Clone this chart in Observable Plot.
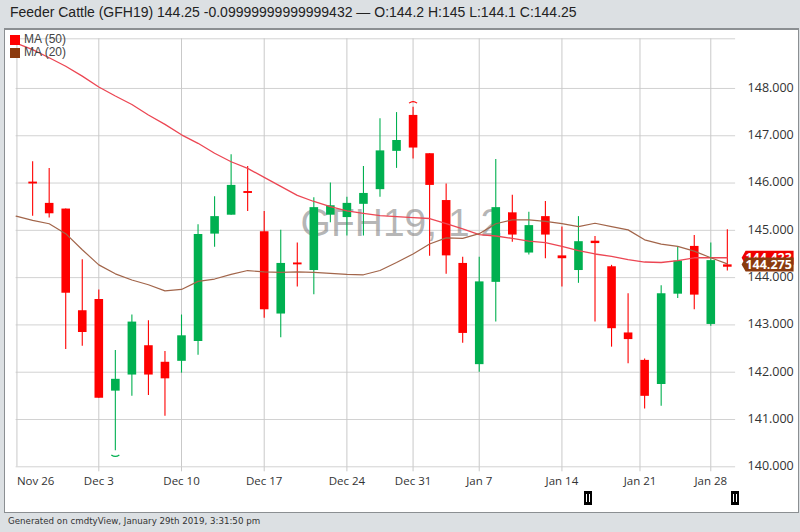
<!DOCTYPE html>
<html><head><meta charset="utf-8">
<script src="https://cdn.jsdelivr.net/npm/d3@7"></script>
<script src="https://cdn.jsdelivr.net/npm/@observablehq/plot@0.6"></script>
<style>
html,body{margin:0;padding:0;background:#dce0e3;width:800px;height:532px;overflow:hidden}
#panel{position:absolute;left:4px;top:28px;width:793px;height:482px;background:#fff;border:1px solid #8b8f92;border-top:2px solid #8b8f92;box-sizing:content-box}
#chart{position:absolute;left:0;top:0}
#title{position:absolute;left:10px;top:4px;font:14px "Liberation Sans",sans-serif;color:#222;white-space:nowrap}
#foot{position:absolute;left:8px;top:516px;font:8.7px "DejaVu Sans",sans-serif;color:#333;white-space:nowrap}
.lg{position:absolute;left:24px;font:12px "Liberation Sans",sans-serif;color:#444;white-space:nowrap;line-height:13px}
.sw{position:absolute;left:10px;width:10px;height:10px}
.h{position:absolute;top:491px;width:8px;height:14px;background:#000}
.h:before{content:"";position:absolute;left:2px;top:3px;width:1px;height:8px;background:#fff}
.h:after{content:"";position:absolute;left:5px;top:3px;width:1px;height:8px;background:#fff}
</style></head><body>
<div id="panel"></div>
<div id="chart"></div>
<div id="title">Feeder Cattle (GFH19) 144.25 -0.09999999999999432 — O:144.2 H:145 L:144.1 C:144.25</div>
<div class="sw" style="top:35px;background:#ff0000"></div><div class="lg" style="top:33px">MA (50)</div>
<div class="sw" style="top:48px;background:#8b3a0e"></div><div class="lg" style="top:46px">MA (20)</div>
<div class="h" style="left:584px"></div><div class="h" style="left:731px"></div>
<div id="foot">Generated on cmdtyView, January 29th 2019, 3:31:50 pm</div>
<script>
const highs=[146.45,146.31,145.45,144.38,143.74,142.46,143.21,143.09,142.44,143.21,145.12,145.71,146.60,146.35,145.40,145.00,144.73,145.69,146.00,145.70,146.35,147.36,147.49,147.60,146.62,145.98,144.43,144.43,146.50,145.74,145.38,145.61,145.07,145.29,144.87,144.26,143.66,142.28,143.83,144.64,144.89,144.73,145.01];
const lows=[145.30,145.26,142.48,142.55,141.45,140.34,141.49,141.51,141.07,141.98,142.36,144.64,145.32,145.40,143.14,142.73,143.80,143.64,145.16,144.88,144.88,145.70,146.31,146.51,144.45,144.07,142.61,142.00,143.06,144.75,144.48,144.40,143.80,143.88,143.06,142.53,142.18,141.22,141.28,143.56,143.32,142.97,144.14];
const opens=[146.02,145.57,145.45,143.30,143.54,141.60,141.94,142.56,142.21,142.23,142.65,144.92,145.32,145.82,144.97,143.23,144.31,144.15,145.32,145.27,145.55,145.86,146.67,147.43,146.62,145.63,144.30,142.16,143.90,145.37,144.52,145.29,144.46,144.15,144.77,144.23,142.83,142.25,141.74,143.65,144.66,143.01,144.27];
const closes=[145.98,145.35,143.67,142.84,141.45,141.85,143.06,141.94,141.86,142.77,144.91,145.29,145.95,145.78,143.32,144.30,144.27,145.48,145.52,145.57,145.78,146.68,146.90,146.74,145.95,144.46,142.82,143.91,145.48,144.90,145.10,144.90,144.40,144.76,144.72,142.92,142.69,141.49,143.66,144.35,143.63,144.36,144.22];
const ma50=[148.96,148.82,148.65,148.47,148.26,148.03,147.84,147.66,147.44,147.24,147.02,146.84,146.63,146.45,146.31,146.12,145.93,145.74,145.61,145.50,145.41,145.36,145.31,145.29,145.27,145.25,145.14,145.03,144.91,144.88,144.83,144.77,144.74,144.66,144.57,144.50,144.45,144.38,144.33,144.32,144.36,144.42,144.42,144.42];
const ma20=[145.30,145.21,145.14,144.93,144.59,144.27,144.08,143.95,143.85,143.72,143.75,143.92,143.97,144.07,144.15,144.12,144.11,144.12,144.11,144.09,144.07,144.06,144.15,144.32,144.50,144.71,144.84,144.83,144.93,145.14,145.22,145.22,145.19,145.14,145.08,145.15,145.08,145.01,144.80,144.71,144.66,144.56,144.42,144.29];
const tickIndex=[0.05,5,10,15,20,24,28,33,37.72,42];
const tickLabels=["Nov 26","Dec 3","Dec 10","Dec 17","Dec 24","Dec 31","Jan 7","Jan 14","Jan 21","Jan 28"];
const priceTicks=[140,141,142,143,144,145,146,147,148];
const lastMA50=144.42, lastClose=144.275;
const extremes=[{i:6,v:140.25,up:false},{i:24,v:147.69,up:true}];
const watermark="GFH19, 1 2";

const up="#00b050", down="#ff0000";
const candles=highs.map((h,k)=>({i:k+1,high:h,low:lows[k],open:opens[k],close:closes[k],color:closes[k]>=opens[k]?up:down}));
const line=a=>a.map((v,i)=>({i,v}));
const arc=dir=>({draw(c){c.moveTo(-4,0);c.quadraticCurveTo(0,dir*3,4,0);}});
const tag={draw(c){c.moveTo(-17,0);c.lineTo(-13,-7);c.lineTo(35,-7);c.lineTo(35,7);c.lineTo(-13,7);c.closePath();}};

const plot=Plot.plot({
  width:800,height:532,marginLeft:15.6,marginRight:64.9,marginTop:38.3,marginBottom:65.7,
  style:{background:"transparent",fontFamily:"'Open Sans',sans-serif",overflow:"visible"},
  x:{domain:[0,43.5],axis:null,label:null},
  y:{domain:[140,149.05],axis:null,label:null},
  marks:[
    Plot.ruleY([...priceTicks,149.05],{stroke:"#d2d2d2",strokeWidth:1}),
    Plot.ruleX(tickIndex,{stroke:"#c9c9c9",strokeWidth:1,y1:140,y2:149.05}),
    Plot.text([watermark],{x:17.2,y:145.15,fontSize:39,fill:"#858585",fillOpacity:.6,fontFamily:"'Liberation Sans',sans-serif",textAnchor:"start"}),
    Plot.axisX({ticks:tickIndex.slice(1),tickFormat:(d,k)=>tickLabels[k+1],tickSize:5,tickPadding:5,stroke:"#c9c9c9",fontSize:11.5,fill:"#333",anchor:"bottom",label:null}),
    Plot.text([tickLabels[0]],{x:tickIndex[0],y:140,dy:15,textAnchor:"start",fontSize:11.5,fill:"#333"}),
    Plot.axisY({ticks:priceTicks,tickFormat:d=>d.toFixed(3),anchor:"right",tickSize:0,tickPadding:12,fontSize:12.5,fill:"#333",label:null,dy:-0.7}),
    Plot.ruleX(candles,{x:"i",y1:"low",y2:"high",stroke:"color",strokeWidth:1.1}),
    Plot.ruleX(candles,{x:"i",y1:"open",y2:"close",stroke:"color",strokeWidth:8.6}),
    Plot.line(line(ma50),{x:"i",y:"v",stroke:"#ec4653",strokeWidth:1.3,curve:"linear"}),
    Plot.line(line(ma20),{x:"i",y:"v",stroke:"#a2654a",strokeWidth:1.2,curve:"linear"}),
    Plot.dot(extremes.filter(d=>d.up),{x:"i",y:"v",symbol:arc(-1),r:3,stroke:down,fill:"none",strokeWidth:1.2}),
    Plot.dot(extremes.filter(d=>!d.up),{x:"i",y:"v",symbol:arc(1),r:3,stroke:up,fill:"none",strokeWidth:1.2}),
    Plot.dot([43.5],{x:d=>d,y:lastMA50,symbol:tag,r:3,fill:"#f00000",stroke:"none",dx:23}),
    Plot.text(["144.423"],{x:43.5,y:lastMA50,dx:33,fill:"#fff",fontSize:12.5,fontWeight:700}),
    Plot.dot([43.5],{x:d=>d,y:lastClose,symbol:tag,r:3,fill:"#8b3a0e",stroke:"none",dx:23}),
    Plot.text(["144.275"],{x:43.5,y:lastClose,dx:33,fill:"#fff",fontSize:12.5,fontWeight:700})
  ]
});
document.getElementById("chart").append(plot);
</script>
</body></html>
